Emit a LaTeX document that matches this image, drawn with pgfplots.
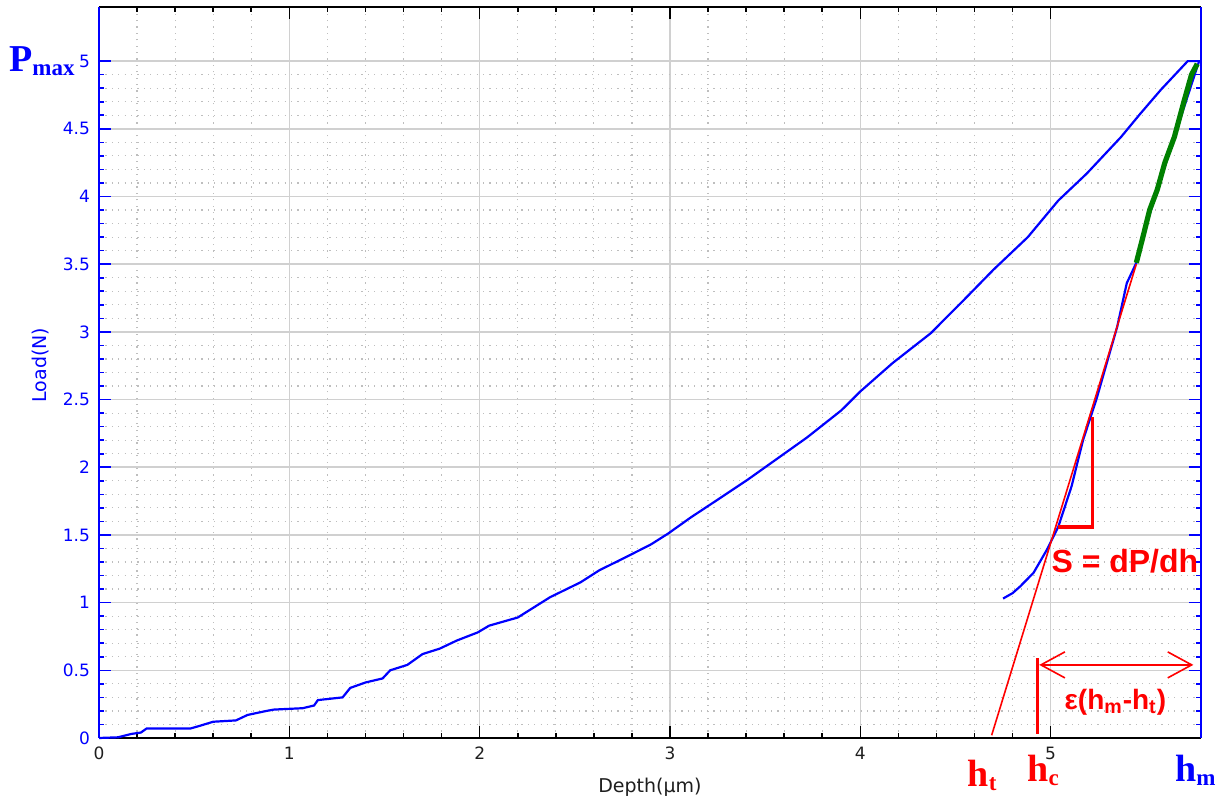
\documentclass[border=0pt]{standalone}
\usepackage{fontspec}
\setmainfont{DejaVu Sans}
\newfontfamily\serifb{Liberation Serif}
\newfontfamily\sansb{Liberation Sans}
\usepackage{pgfplots}
\usepackage{pgfplotstable}
\pgfplotsset{compat=1.18}
\usetikzlibrary{arrows.meta}

\definecolor{gridmaj}{RGB}{208,208,208}
\definecolor{gridmin}{RGB}{190,190,190}
\definecolor{ldgreen}{RGB}{0,128,0}
\definecolor{txtgray}{RGB}{30,30,30}

% loading branch
\pgfplotstableread{
h P
0 0
0.10 0.005
0.17 0.03
0.22 0.04
0.25 0.07
0.48 0.07
0.53 0.09
0.60 0.12
0.72 0.13
0.78 0.17
0.88 0.20
0.92 0.21
1.07 0.22
1.13 0.24
1.15 0.28
1.28 0.30
1.32 0.37
1.40 0.41
1.49 0.44
1.53 0.50
1.62 0.54
1.70 0.62
1.79 0.66
1.88 0.72
1.99 0.78
2.05 0.83
2.20 0.89
2.37 1.04
2.53 1.15
2.63 1.24
2.76 1.33
2.90 1.43
2.99 1.51
3.11 1.63
3.25 1.76
3.41 1.91
3.58 2.08
3.72 2.22
3.90 2.42
4.00 2.56
4.17 2.77
4.37 2.99
4.54 3.23
4.70 3.46
4.88 3.70
5.04 3.97
5.19 4.17
5.37 4.44
5.47 4.61
5.58 4.79
5.70 4.97
5.72 5.00
5.78 5.00
}\loading

% unloading branch
\pgfplotstableread{
h P
5.78 5.00
5.65 4.44
5.56 4.05
5.49 3.73
5.45 3.51
5.40 3.36
5.35 3.04
5.24 2.50
5.17 2.20
5.11 1.86
5.04 1.56
4.98 1.39
4.91 1.22
4.84 1.12
4.80 1.07
4.75 1.03
}\unloading

% fitted upper part of unloading
\pgfplotstableread{
h P
5.45 3.51
5.49 3.73
5.52 3.90
5.56 4.05
5.60 4.25
5.65 4.44
5.70 4.70
5.74 4.90
5.77 4.98
}\fitpart

\begin{document}
\begin{tikzpicture}
\begin{axis}[
    scale only axis,
    width=551pt, height=365.5pt,
    xmin=0, xmax=5.79, ymin=0, ymax=5.4,
    xtick={0,1,2,3,4,5},
    ytick={0,0.5,1,1.5,2,2.5,3,3.5,4,4.5,5},
    minor x tick num=4, minor y tick num=4,
    grid=both,
    major grid style={gridmaj, line width=0.8pt},
    minor grid style={gridmin, line width=0.6pt, dash pattern=on 0.6pt off 2.6pt},
    separate axis lines,
    x axis line style={black, line width=1pt},
    y axis line style={blue, line width=1pt},
    xtick style={black, line width=0.8pt},
    ytick style={blue, line width=0.8pt},
    major tick length=6pt, minor tick length=2.5pt,
    /pgf/number format/assume math mode=true,
    tick label style={font=\fontsize{8.5}{10}\selectfont},
    xticklabel style={text=txtgray, yshift=-1pt},
    yticklabel style={text=blue, xshift=-1pt},
    xlabel={Depth(μm)}, ylabel={Load(N)},
    label style={font=\fontsize{9.5}{11}\selectfont},
    xlabel style={text=txtgray, at={(axis description cs:0.5,-0.068)}, anchor=center},
    ylabel style={text=blue, at={(axis description cs:-0.0535,0.51)}, anchor=center},
    clip=false,
]
\addplot[blue, line width=1.1pt] table[x=h, y=P] {\loading};
\addplot[blue, line width=1.1pt] table[x=h, y=P] {\unloading};
\addplot[red, line width=0.8pt] coordinates {(4.69,0.02) (5.45,3.50)};
\addplot[ldgreen, line width=2.6pt] table[x=h, y=P] {\fitpart};
% slope triangle
\addplot[red, line width=1.7pt] coordinates {(5.04,1.56) (5.22,1.56) (5.22,2.37)};
% h_c marker and epsilon arrow
\addplot[red, line width=1.7pt] coordinates {(4.93,0.03) (4.93,0.59)};
\addplot[red, line width=0.8pt,
    {Straight Barb[length=12pt,width=13pt]}-{Straight Barb[length=12pt,width=13pt]}]
    coordinates {(4.94,0.54) (5.75,0.54)};

\node[anchor=base, inner sep=0, text=red] at (axis cs:5.39,1.22)
    {\sansb\bfseries\fontsize{16}{16}\selectfont S = dP/dh};
\node[anchor=base, inner sep=0, text=red] at (axis cs:5.34,0.21)
    {\sansb\bfseries\fontsize{14}{14}\selectfont ε(h\textsubscript{m}-h\textsubscript{t})};
\node[anchor=base east, inner sep=0, text=blue] at ([xshift=-12pt]axis cs:0,4.92)
    {\serifb\bfseries\fontsize{19}{19}\selectfont P\raisebox{-2pt}{\fontsize{11.5}{12}\selectfont max}};
\node[anchor=base, inner sep=0, text=red] at (axis cs:4.64,-0.36)
    {\serifb\bfseries\fontsize{19}{19}\selectfont h\raisebox{-2pt}{\fontsize{11.5}{12}\selectfont t}};
\node[anchor=base, inner sep=0, text=red] at (axis cs:4.96,-0.325)
    {\serifb\bfseries\fontsize{19}{19}\selectfont h\raisebox{-2pt}{\fontsize{11.5}{12}\selectfont c}};
\node[anchor=base, inner sep=0, text=blue] at (axis cs:5.76,-0.325)
    {\serifb\bfseries\fontsize{19}{19}\selectfont h\raisebox{-2pt}{\fontsize{11.5}{12}\selectfont m}};
\end{axis}
\pgfresetboundingbox
\path (current axis.south west) +(-49.5pt,-31.5pt) coordinate (bbl);
\path (current axis.north east) +(12.5pt,3.5pt) coordinate (btr);
\useasboundingbox (bbl) rectangle (btr);
\end{tikzpicture}
\end{document}
